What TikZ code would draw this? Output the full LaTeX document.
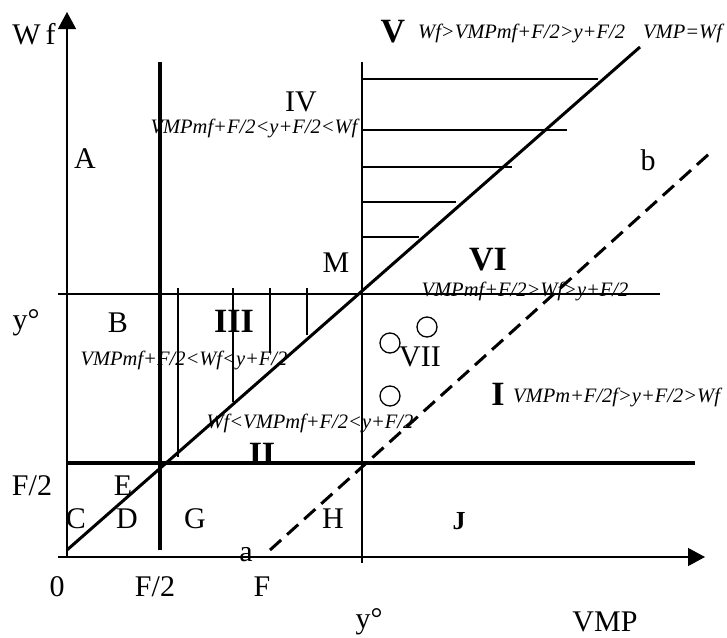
\documentclass[tikz,border=0pt]{standalone}
\usepackage{fontspec}
\setmainfont{Liberation Serif}
\usetikzlibrary{arrows.meta}

\begin{document}
\begin{tikzpicture}[x=1pt, y=-1pt,
  lbl/.style={font=\fontsize{30}{32}\selectfont, inner sep=0pt},
  zone/.style={font=\fontsize{34}{36}\selectfont\bfseries, inner sep=0pt},
  cond/.style={font=\fontsize{20.5}{22}\selectfont\itshape, inner sep=0pt},
  thinline/.style={line width=1.3pt},
  thickline/.style={line width=4pt},
  axis/.style={line width=1.3pt, -{Triangle[length=17pt, width=18pt]}}]

  \useasboundingbox (0,0) rectangle (727,637);

  % Key points of the diagram.
  \coordinate (O) at (67,557);
  \coordinate (xstart) at (58,557);
  \coordinate (xend) at (705,557);
  \coordinate (yend) at (67,12);

  % Axis and tick labels.
  \node[lbl] (wf) at (34,34) {W\,f};
  \node[lbl] (vmp) at (605,622) {VMP};
  \node[lbl] (zero) at (57,587) {0};
  \node[lbl] (fhalfx) at (155,587) {F/2};
  \node[lbl] (fx) at (262,587) {F};
  \node[lbl] (yox) at (369,622) {y°};
  \node[lbl] (yoy) at (26,323) {y°};
  \node[lbl] (fhalfy) at (32,486) {F/2};

  % Letters for the regions.
  \node[lbl] (A) at (85,159) {A};
  \node[lbl] (B) at (118,323) {B};
  \node[lbl] (C) at (76,519) {C};
  \node[lbl] (D) at (127,519) {D};
  \node[lbl] (E) at (123,486) {E};
  \node[lbl] (G) at (195,519) {G};
  \node[lbl] (H) at (333,519) {H};
  \node[zone, font=\fontsize{26}{28}\selectfont\bfseries] (J) at (459,521) {J};
  \node[lbl] (M) at (336,263) {M};
  \node[lbl] (a) at (246,555) {a};
  \node[lbl] (b) at (648,160) {b};

  % Zone numbers with their conditions.
  \node[zone] (I) at (498,394) {I};
  \node[cond, anchor=west] (condI) at (513,397) {VMPm+F/2f>y+F/2>Wf};
  \node[zone, anchor=base] (II) at (262,465) {II};
  \node[cond] (condII) at (310,423) {Wf<VMPmf+F/2<y+F/2};
  \node[zone] (III) at (234,321) {III};
  \node[cond] (condIII) at (184,360) {VMPmf+F/2<Wf<y+F/2};
  \node[lbl] (IV) at (301,102) {IV};
  \node[cond] (condIV) at (254,128) {VMPmf+F/2<y+F/2<Wf};
  \node[zone] (V) at (393,32) {V};
  \node[cond, anchor=west] (condV) at (418,33) {Wf>VMPmf+F/2>y+F/2};
  \node[cond, anchor=west] (diaglbl) at (643,33) {VMP=Wf};
  \node[zone] (VI) at (488,260) {VI};
  \node[cond] (condVI) at (525,291) {VMPmf+F/2>Wf>y+F/2};
  \node[lbl] (VII) at (420,357) {VII};

  % Axes.
  \draw[axis] (xstart) -- (xend);
  \draw[axis] (O) -- (yend);

  % Thin guide lines at y°.
  \draw[thinline] (58,294) -- (660,294);
  \draw[thinline] (362,62) -- (362,563);

  % Thick lines at F/2.
  \draw[thickline] (160,62) -- (160,550);
  \draw[thickline] (67,463) -- (695,463);

  % Line VMP = Wf and the dashed line a--b.
  \draw[line width=3pt] (67,550) -- (640,47);
  \draw[line width=3pt, dash pattern=on 15pt off 8pt] (270,550) -- (710,153);

  % Hatching of zone V.
  \foreach \yy/\xx in {79/598, 130/567, 167/512, 202/456, 237/419}
    \draw[thinline] (363,\yy) -- (\xx,\yy);

  % Hatching of zone III.
  \foreach \xx/\yy in {178/457, 233/402, 270/353, 307/335}
    \draw[thinline] (\xx,288) -- (\xx,\yy);

  % Circles of zone VII.
  \draw[thinline] (390,343) circle (10);
  \draw[thinline] (427,327) circle (10);
  \draw[thinline] (390,396) circle (10);

\end{tikzpicture}
\end{document}
